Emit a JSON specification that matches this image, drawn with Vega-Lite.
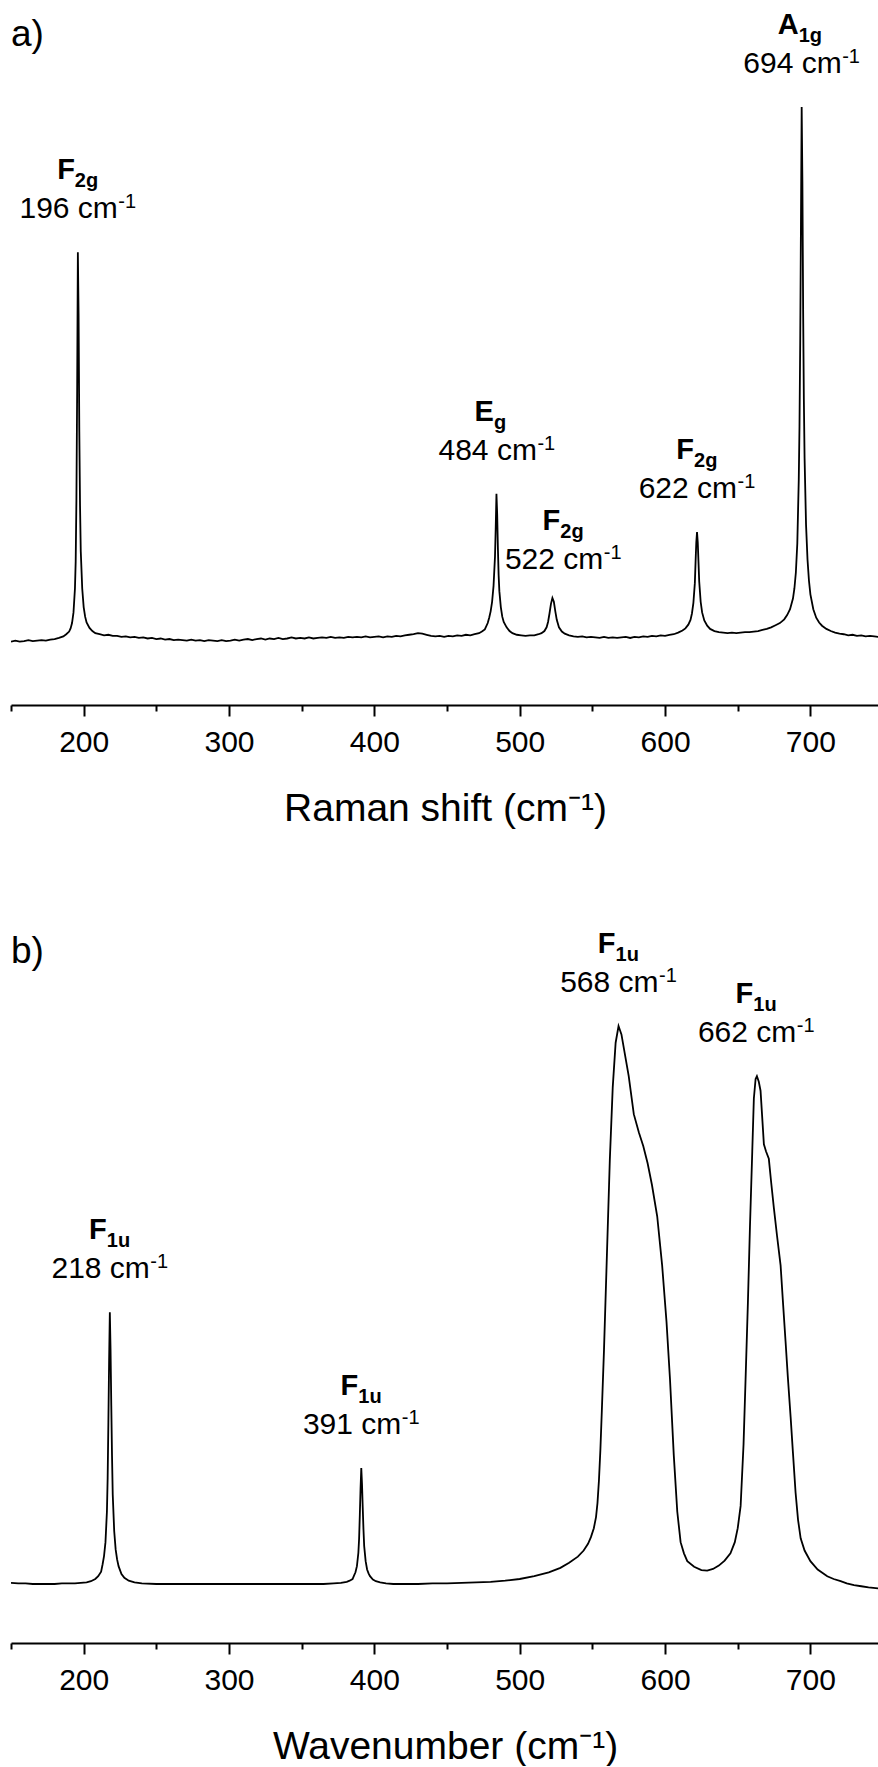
{
"$schema": "https://vega.github.io/schema/vega-lite/v6.json",
"padding": {"left": 10, "top": 0, "right": 0, "bottom": 0},
"spacing": 50,
"config": {"view": {"stroke": null}, "font": "Liberation Sans", "text": {"font": "Liberation Sans", "color": "black"}},
"datasets": {
"raman": [
{"x":150,"y":-5},{"x":153,"y":-3},{"x":156,"y":-5},{"x":159,"y":-4},{"x":162,"y":-2},{"x":165,"y":-4},{"x":168,"y":-3},{"x":171,"y":-2},{"x":174,"y":-3},{"x":177,"y":-1},{"x":180,"y":0},{"x":183,"y":2},{"x":186,"y":5},{"x":188,"y":9},{"x":190,"y":14},{"x":191,"y":20},{"x":192,"y":30},{"x":193,"y":50},{"x":194,"y":95},{"x":194.5,"y":145},{"x":195,"y":260},{"x":195.5,"y":460},{"x":196,"y":727},{"x":196.5,"y":610},{"x":197,"y":390},{"x":197.5,"y":250},{"x":198,"y":165},{"x":199,"y":95},{"x":200,"y":60},{"x":201,"y":42},{"x":202,"y":31},{"x":204,"y":21},{"x":206,"y":15},{"x":208,"y":11},{"x":211,"y":9},{"x":214,"y":7},{"x":217,"y":8},{"x":220,"y":6},{"x":223,"y":6},{"x":226,"y":4},{"x":229,"y":5},{"x":232,"y":3},{"x":235,"y":4},{"x":238,"y":2},{"x":241,"y":3},{"x":244,"y":1},{"x":247,"y":2},{"x":250,"y":0},{"x":253,"y":1},{"x":256,"y":-1},{"x":259,"y":0},{"x":262,"y":-2},{"x":265,"y":-1},{"x":268,"y":-2},{"x":271,"y":-3},{"x":274,"y":-1},{"x":277,"y":-3},{"x":280,"y":-2},{"x":283,"y":-4},{"x":286,"y":-2},{"x":289,"y":-3},{"x":292,"y":-4},{"x":295,"y":-2},{"x":298,"y":-4},{"x":301,"y":-3},{"x":304,"y":-1},{"x":307,"y":-3},{"x":310,"y":-1},{"x":313,"y":0},{"x":316,"y":-2},{"x":319,"y":0},{"x":322,"y":1},{"x":325,"y":-1},{"x":328,"y":1},{"x":331,"y":0},{"x":334,"y":2},{"x":337,"y":0},{"x":340,"y":1},{"x":343,"y":3},{"x":346,"y":1},{"x":349,"y":2},{"x":352,"y":1},{"x":355,"y":3},{"x":358,"y":1},{"x":361,"y":2},{"x":364,"y":3},{"x":367,"y":2},{"x":370,"y":4},{"x":373,"y":2},{"x":376,"y":3},{"x":379,"y":2},{"x":382,"y":4},{"x":385,"y":3},{"x":388,"y":4},{"x":391,"y":3},{"x":394,"y":5},{"x":397,"y":3},{"x":400,"y":4},{"x":403,"y":5},{"x":406,"y":3},{"x":409,"y":5},{"x":412,"y":4},{"x":415,"y":6},{"x":418,"y":5},{"x":421,"y":7},{"x":424,"y":8},{"x":427,"y":9},{"x":430,"y":11},{"x":433,"y":10},{"x":436,"y":8},{"x":439,"y":6},{"x":442,"y":5},{"x":445,"y":6},{"x":448,"y":4},{"x":451,"y":6},{"x":454,"y":5},{"x":457,"y":7},{"x":460,"y":6},{"x":463,"y":8},{"x":466,"y":7},{"x":469,"y":9},{"x":472,"y":11},{"x":474,"y":14},{"x":476,"y":18},{"x":478,"y":30},{"x":479,"y":40},{"x":480,"y":52},{"x":481,"y":70},{"x":482,"y":100},{"x":483,"y":155},{"x":483.5,"y":210},{"x":484,"y":273},{"x":484.5,"y":235},{"x":485,"y":170},{"x":485.5,"y":120},{"x":486,"y":90},{"x":487,"y":60},{"x":488,"y":42},{"x":489,"y":32},{"x":491,"y":22},{"x":493,"y":15},{"x":495,"y":11},{"x":498,"y":8},{"x":501,"y":7},{"x":504,"y":6},{"x":507,"y":7},{"x":510,"y":7},{"x":513,"y":9},{"x":515,"y":11},{"x":517,"y":15},{"x":518.5,"y":22},{"x":519.5,"y":32},{"x":520.5,"y":48},{"x":521.5,"y":66},{"x":522.5,"y":77},{"x":523.5,"y":70},{"x":524.5,"y":52},{"x":525.5,"y":36},{"x":527,"y":22},{"x":529,"y":14},{"x":531,"y":10},{"x":534,"y":7},{"x":537,"y":5},{"x":540,"y":4},{"x":543,"y":5},{"x":546,"y":3},{"x":549,"y":4},{"x":552,"y":3},{"x":555,"y":2},{"x":558,"y":4},{"x":561,"y":2},{"x":564,"y":3},{"x":567,"y":2},{"x":570,"y":3},{"x":573,"y":4},{"x":576,"y":2},{"x":579,"y":4},{"x":582,"y":3},{"x":585,"y":5},{"x":588,"y":4},{"x":591,"y":6},{"x":594,"y":5},{"x":597,"y":7},{"x":600,"y":6},{"x":603,"y":8},{"x":606,"y":9},{"x":609,"y":12},{"x":612,"y":16},{"x":614,"y":20},{"x":616,"y":27},{"x":617.5,"y":36},{"x":618.5,"y":48},{"x":619.5,"y":68},{"x":620.5,"y":105},{"x":621,"y":145},{"x":621.5,"y":182},{"x":622,"y":201},{"x":622.5,"y":182},{"x":623,"y":145},{"x":623.5,"y":108},{"x":624.5,"y":70},{"x":625.5,"y":50},{"x":627,"y":35},{"x":629,"y":25},{"x":631,"y":19},{"x":634,"y":15},{"x":637,"y":13},{"x":640,"y":12},{"x":643,"y":11},{"x":646,"y":12},{"x":649,"y":11},{"x":652,"y":12},{"x":655,"y":13},{"x":658,"y":13},{"x":661,"y":14},{"x":664,"y":15},{"x":667,"y":17},{"x":670,"y":19},{"x":673,"y":22},{"x":676,"y":26},{"x":679,"y":30},{"x":682,"y":37},{"x":684,"y":45},{"x":686,"y":56},{"x":688,"y":76},{"x":689,"y":95},{"x":690,"y":125},{"x":691,"y":180},{"x":692,"y":300},{"x":692.5,"y":400},{"x":693,"y":560},{"x":693.5,"y":780},{"x":694,"y":1000},{"x":694.5,"y":860},{"x":695,"y":620},{"x":695.5,"y":450},{"x":696,"y":340},{"x":697,"y":215},{"x":698,"y":150},{"x":699,"y":110},{"x":700,"y":84},{"x":702,"y":56},{"x":704,"y":40},{"x":706,"y":31},{"x":708,"y":25},{"x":711,"y":19},{"x":714,"y":15},{"x":717,"y":12},{"x":720,"y":10},{"x":723,"y":9},{"x":726,"y":7},{"x":729,"y":8},{"x":732,"y":6},{"x":735,"y":7},{"x":738,"y":5},{"x":741,"y":6},{"x":744,"y":5},{"x":747,"y":4}
],
"ir": [
{"x":150,"y":2},{"x":155,"y":1},{"x":160,"y":1},{"x":165,"y":0},{"x":170,"y":0},{"x":175,"y":0},{"x":180,"y":0},{"x":185,"y":1},{"x":190,"y":1},{"x":194,"y":1},{"x":198,"y":2},{"x":202,"y":3},{"x":205,"y":5},{"x":208,"y":9},{"x":210,"y":14},{"x":212,"y":22},{"x":213,"y":35},{"x":214,"y":50},{"x":215,"y":75},{"x":216,"y":130},{"x":216.5,"y":190},{"x":217,"y":290},{"x":217.5,"y":400},{"x":218,"y":487},{"x":218.5,"y":420},{"x":219,"y":320},{"x":219.5,"y":230},{"x":220,"y":160},{"x":221,"y":95},{"x":222,"y":62},{"x":223,"y":44},{"x":224,"y":32},{"x":226,"y":18},{"x":228,"y":11},{"x":231,"y":6},{"x":235,"y":3},{"x":240,"y":1},{"x":250,"y":0},{"x":270,"y":0},{"x":290,"y":0},{"x":310,"y":0},{"x":330,"y":0},{"x":350,"y":0},{"x":365,"y":0},{"x":372,"y":1},{"x":377,"y":2},{"x":381,"y":4},{"x":383,"y":6},{"x":385,"y":9},{"x":386,"y":15},{"x":387,"y":21},{"x":388,"y":32},{"x":389,"y":56},{"x":389.5,"y":81},{"x":390,"y":124},{"x":390.5,"y":171},{"x":391,"y":208},{"x":391.5,"y":179},{"x":392,"y":137},{"x":392.5,"y":98},{"x":393,"y":68},{"x":394,"y":41},{"x":395,"y":26},{"x":396,"y":19},{"x":397,"y":14},{"x":399,"y":8},{"x":401,"y":5},{"x":404,"y":3},{"x":408,"y":1},{"x":413,"y":0},{"x":420,"y":0},{"x":430,"y":0},{"x":440,"y":1},{"x":450,"y":1},{"x":460,"y":2},{"x":470,"y":3},{"x":480,"y":4},{"x":490,"y":6},{"x":500,"y":9},{"x":510,"y":14},{"x":520,"y":21},{"x":528,"y":29},{"x":534,"y":38},{"x":540,"y":49},{"x":544,"y":60},{"x":547,"y":72},{"x":549,"y":84},{"x":551,"y":100},{"x":552.5,"y":120},{"x":553.5,"y":145},{"x":554.5,"y":185},{"x":555.5,"y":240},{"x":556.5,"y":310},{"x":558,"y":420},{"x":560,"y":590},{"x":562,"y":760},{"x":564,"y":890},{"x":566,"y":970},{"x":568,"y":1000},{"x":570,"y":985},{"x":572,"y":955},{"x":575,"y":910},{"x":578.5,"y":842},{"x":582,"y":809},{"x":585,"y":785},{"x":588,"y":754},{"x":591,"y":715},{"x":594.6,"y":659},{"x":598,"y":571},{"x":601,"y":470},{"x":603.4,"y":367},{"x":606,"y":231},{"x":608.4,"y":130},{"x":610.7,"y":75},{"x":613,"y":55},{"x":615.3,"y":41},{"x":620,"y":31},{"x":625,"y":25},{"x":629,"y":24},{"x":633,"y":27},{"x":637,"y":33},{"x":641,"y":42},{"x":645,"y":55},{"x":648,"y":75},{"x":650,"y":100},{"x":652,"y":140},{"x":654,"y":250},{"x":655.4,"y":367},{"x":657,"y":504},{"x":658.4,"y":639},{"x":660,"y":775},{"x":661.1,"y":870},{"x":662.3,"y":905},{"x":663.2,"y":910},{"x":664.5,"y":900},{"x":665.7,"y":884},{"x":667,"y":830},{"x":668,"y":788},{"x":669.5,"y":775},{"x":671.4,"y":762},{"x":673,"y":720},{"x":674.9,"y":673},{"x":677,"y":625},{"x":679.5,"y":571},{"x":681,"y":510},{"x":682.9,"y":435},{"x":684.5,"y":370},{"x":686.4,"y":299},{"x":688,"y":235},{"x":689.8,"y":164},{"x":691.5,"y":115},{"x":693.3,"y":82},{"x":696,"y":60},{"x":700,"y":41},{"x":705,"y":26},{"x":711.6,"y":14},{"x":716,"y":9},{"x":720.8,"y":5},{"x":725,"y":1},{"x":730,"y":-2},{"x":735,"y":-4},{"x":740,"y":-6},{"x":747,"y":-8}
],
"ramanLabels": [
{"x":196,"y":727,"sym":"F","sub":"2g","num":"196 cm"},
{"x":484.3,"y":273,"sym":"E","sub":"g","num":"484 cm"},
{"x":530,"y":68,"sym":"F","sub":"2g","num":"522 cm"},
{"x":622,"y":201,"sym":"F","sub":"2g","num":"622 cm"},
{"x":694,"y":1000,"sym":"A","sub":"1g","num":"694 cm"}
],
"irLabels": [
{"x":218,"y":487,"sym":"F","sub":"1u","num":"218 cm"},
{"x":391,"y":208,"sym":"F","sub":"1u","num":"391 cm"},
{"x":568,"y":1000,"sym":"F","sub":"1u","num":"568 cm"},
{"x":662.8,"y":910,"sym":"F","sub":"1u","num":"662 cm"}
]
},
"vconcat": [
{
"width": 868, "height": 705,
"layer": [
{"data": {"name": "raman"},
 "mark": {"type": "line", "color": "black", "strokeWidth": 1.8, "clip": true},
 "encoding": {
  "x": {"field": "x", "type": "quantitative", "scale": {"domain": [150, 747.2], "nice": false, "zero": false},
   "axis": {"title": "Raman shift (cm⁻¹)", "values": [150,200,250,300,350,400,450,500,550,600,650,700,750],
    "labelExpr": "datum.value % 100 === 0 ? datum.label : ''",
    "tickSize": {"condition": {"test": "datum.value % 100 === 0", "value": 11}, "value": 6},
    "tickWidth": 2, "tickColor": "black", "domainColor": "black", "domainWidth": 2, "grid": false,
    "labelFontSize": 30, "labelColor": "black", "labelFont": "Liberation Sans", "labelPadding": 11.5, "labelFlush": false,
    "titleFontSize": 39, "titleFontWeight": "normal", "titleColor": "black", "titleFont": "Liberation Sans", "titlePadding": 31.5}},
  "y": {"field": "y", "type": "quantitative", "scale": {"domain": [-124, 1201], "nice": false, "zero": false}, "axis": null}
 }},
{"data": {"name": "ramanLabels"},
 "mark": {"type": "text", "fontWeight": "bold", "fontSize": 29, "align": "right", "baseline": "alphabetic", "dx": -3, "dy": -73},
 "encoding": {"x": {"field": "x", "type": "quantitative"}, "y": {"field": "y", "type": "quantitative"}, "text": {"field": "sym"}}},
{"data": {"name": "ramanLabels"},
 "mark": {"type": "text", "fontWeight": "bold", "fontSize": 20, "align": "left", "baseline": "alphabetic", "dx": -3, "dy": -65},
 "encoding": {"x": {"field": "x", "type": "quantitative"}, "y": {"field": "y", "type": "quantitative"}, "text": {"field": "sub"}}},
{"data": {"name": "ramanLabels"},
 "mark": {"type": "text", "fontSize": 30, "align": "right", "baseline": "alphabetic", "dx": 40, "dy": -34},
 "encoding": {"x": {"field": "x", "type": "quantitative"}, "y": {"field": "y", "type": "quantitative"}, "text": {"field": "num"}}},
{"data": {"name": "ramanLabels"},
 "mark": {"type": "text", "fontSize": 20, "align": "left", "baseline": "alphabetic", "dx": 40.5, "dy": -44, "text": "-1"},
 "encoding": {"x": {"field": "x", "type": "quantitative"}, "y": {"field": "y", "type": "quantitative"}}},
{"data": {"values": [{"t": "a)"}]},
 "mark": {"type": "text", "fontSize": 37, "align": "left", "baseline": "alphabetic"},
 "encoding": {"x": {"datum": 150}, "y": {"datum": 1115}, "text": {"field": "t"}}}
]
},
{
"width": 868, "height": 765,
"layer": [
{"data": {"name": "ir"},
 "mark": {"type": "line", "color": "black", "strokeWidth": 1.8, "clip": true},
 "encoding": {
  "x": {"field": "x", "type": "quantitative", "scale": {"domain": [150, 747.2], "nice": false, "zero": false},
   "axis": {"title": "Wavenumber (cm⁻¹)", "values": [150,200,250,300,350,400,450,500,550,600,650,700,750],
    "labelExpr": "datum.value % 100 === 0 ? datum.label : ''",
    "tickSize": {"condition": {"test": "datum.value % 100 === 0", "value": 11}, "value": 6},
    "tickWidth": 2, "tickColor": "black", "domainColor": "black", "domainWidth": 2, "grid": false,
    "labelFontSize": 30, "labelColor": "black", "labelFont": "Liberation Sans", "labelPadding": 11.5, "labelFlush": false,
    "titleFontSize": 39, "titleFontWeight": "normal", "titleColor": "black", "titleFont": "Liberation Sans", "titlePadding": 31.5}},
  "y": {"field": "y", "type": "quantitative", "scale": {"domain": [-105.7, 1265.2], "nice": false, "zero": false}, "axis": null}
 }},
{"data": {"name": "irLabels"},
 "mark": {"type": "text", "fontWeight": "bold", "fontSize": 29, "align": "right", "baseline": "alphabetic", "dx": -3, "dy": -73},
 "encoding": {"x": {"field": "x", "type": "quantitative"}, "y": {"field": "y", "type": "quantitative"}, "text": {"field": "sym"}}},
{"data": {"name": "irLabels"},
 "mark": {"type": "text", "fontWeight": "bold", "fontSize": 20, "align": "left", "baseline": "alphabetic", "dx": -3, "dy": -65},
 "encoding": {"x": {"field": "x", "type": "quantitative"}, "y": {"field": "y", "type": "quantitative"}, "text": {"field": "sub"}}},
{"data": {"name": "irLabels"},
 "mark": {"type": "text", "fontSize": 30, "align": "right", "baseline": "alphabetic", "dx": 40, "dy": -34},
 "encoding": {"x": {"field": "x", "type": "quantitative"}, "y": {"field": "y", "type": "quantitative"}, "text": {"field": "num"}}},
{"data": {"name": "irLabels"},
 "mark": {"type": "text", "fontSize": 20, "align": "left", "baseline": "alphabetic", "dx": 40.5, "dy": -44, "text": "-1"},
 "encoding": {"x": {"field": "x", "type": "quantitative"}, "y": {"field": "y", "type": "quantitative"}}},
{"data": {"values": [{"t": "b)"}]},
 "mark": {"type": "text", "fontSize": 37, "align": "left", "baseline": "alphabetic"},
 "encoding": {"x": {"datum": 150}, "y": {"datum": 1113}, "text": {"field": "t"}}}
]
}
]
}
